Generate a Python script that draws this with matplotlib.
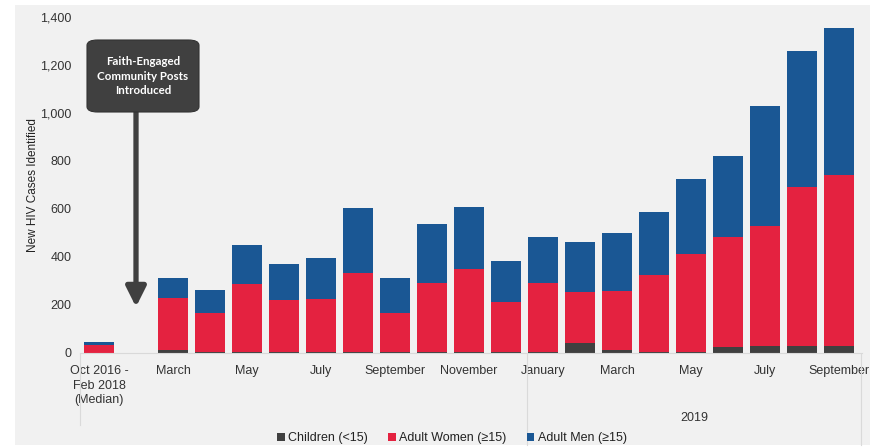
import numpy as np
import matplotlib
matplotlib.use('Agg')
import matplotlib.pyplot as plt
from matplotlib.patches import Rectangle, FancyBboxPatch

plt.rcParams['font.family'] = ['Liberation Sans', 'DejaVu Sans']

# 월별 신규 HIV 확진 (누적 높이 기준으로 읽은 값)
slots = ['median', '', 'Mar18', 'Apr18', 'May18', 'Jun18', 'Jul18', 'Aug18', 'Sep18',
         'Oct18', 'Nov18', 'Dec18', 'Jan19', 'Feb19', 'Mar19', 'Apr19', 'May19',
         'Jun19', 'Jul19', 'Aug19', 'Sep19']
children = [0, 0, 9, 4, 4, 3, 2, 2, 3, 3, 3, 3, 3, 40, 12, 3, 3, 24, 28, 28, 28]
women_top = [30, 0, 229, 166, 287, 218, 222, 333, 165, 290, 348, 210, 290, 252, 258, 322, 412,
             481, 529, 691, 742]
total = [44, 0, 312, 261, 449, 368, 394, 602, 310, 538, 606, 383, 481, 460, 499, 586, 723,
         821, 1030, 1260, 1356]

children = np.array(children)
women = np.array(women_top) - children
men = np.array(total) - np.array(women_top)

tick_pos = [0, 2, 4, 6, 8, 10, 12, 14, 16, 18, 20]
tick_labels = ['Oct 2016 -\nFeb 2018\n(Median)', 'March', 'May', 'July', 'September',
               'November', 'January', 'March', 'May', 'July', 'September']

c_child = '#404040'
c_women = '#E42240'
c_men = '#1A5794'

W, H = 885, 447
fig = plt.figure(figsize=(W / 100, H / 100), dpi=100)
fig.patches.append(Rectangle((15 / W, 2 / H), 855 / W, 440 / H, transform=fig.transFigure,
                             facecolor='#F1F1F1', edgecolor='none', zorder=-10))

ax = fig.add_axes([80 / W, (H - 352.5) / H, 782 / W, 335.5 / H])
ax.set_facecolor('none')
x = np.arange(len(slots))
bw = 0.81
ax.bar(x, children, bw, color=c_child, edgecolor='none', label='Children (<15)')
ax.bar(x, women, bw, bottom=children, color=c_women, edgecolor='none', label='Adult Women (≥15)')
ax.bar(x, men, bw, bottom=children + women, color=c_men, edgecolor='none', label='Adult Men (≥15)')

ax.set_xlim((80 - 99) / 37, (862 - 99) / 37)
ax.set_ylim(0, 1400)
ax.set_yticks(range(0, 1401, 200))
ax.set_yticklabels([f'{v:,}' for v in range(0, 1401, 200)], fontsize=9, color='#333333')
ax.set_xticks(tick_pos)
ax.set_xticklabels(tick_labels, fontsize=9, color='#333333', linespacing=1.3)
ax.tick_params(axis='both', length=0, pad=6)
ax.tick_params(axis='x', pad=9)
for s in ['top', 'right', 'left']:
    ax.spines[s].set_visible(False)
ax.spines['bottom'].set_color('#D9D9D9')
ax.spines['bottom'].set_linewidth(0.8)
ax.set_ylabel('New HIV Cases Identified', fontsize=8.5, color='#222222', labelpad=1)

# 카테고리 구분선과 연도 라벨
for px, y0 in [(80, 425), (527, 445), (861, 445)]:
    fig.add_artist(plt.Line2D([px / W, px / W], [(H - 354) / H, (H - y0) / H],
                              color='#DADADA', lw=0.8))
fig.text(694 / W, (H - 418) / H, '2019', fontsize=9, color='#333333', ha='center', va='center')

# 안내 상자와 화살표
box = FancyBboxPatch((87 / W, (H - 112) / H), 112 / W, 72 / H,
                     boxstyle='round,pad=0,rounding_size=0.012',
                     transform=fig.transFigure, facecolor='#404040', edgecolor='#333333', lw=0.8)
fig.patches.append(box)
fig.text(143 / W, (H - 76) / H, 'Faith-Engaged\nCommunity Posts\nIntroduced', fontsize=8.3,
         family=['Lato', 'DejaVu Sans'], fontweight='bold', color='white', ha='center',
         va='center', linespacing=1.35)
ax.annotate('', xy=(1, 190), xytext=(1, 1030),
            arrowprops=dict(arrowstyle='-|>,head_width=0.6,head_length=1.2', color='#404040',
                            lw=3.8, shrinkA=0, shrinkB=0))

fig.legend(loc='center', bbox_to_anchor=(452 / W, (H - 438) / H), ncol=3, frameon=False,
           fontsize=9, handlelength=0.6, handleheight=0.6, handletextpad=0.3,
           columnspacing=1.6, labelcolor='#222222')

fig.savefig('out.png', dpi=100)
